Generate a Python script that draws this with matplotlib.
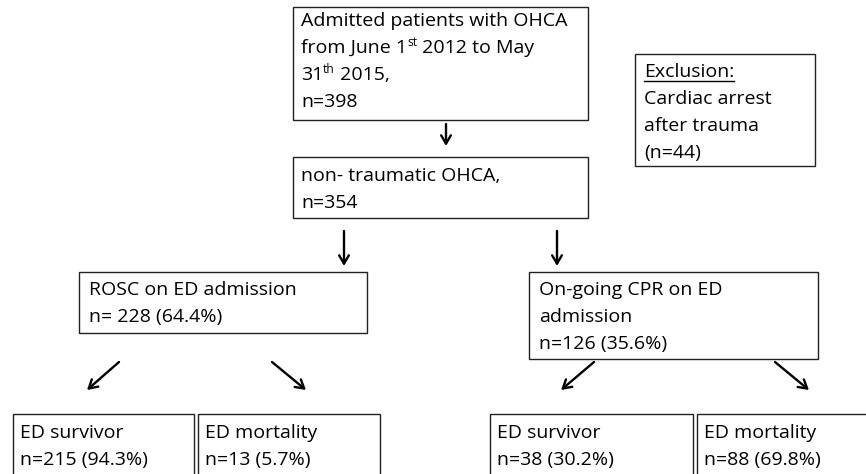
import matplotlib.pyplot as plt
from matplotlib.patches import Rectangle

# counts
n_admitted = 398
n_trauma = 44
n_nontrauma = 354
rosc_n, rosc_pct = 228, 64.4
cpr_n, cpr_pct = 126, 35.6
rosc_surv_n, rosc_surv_pct = 215, 94.3
rosc_mort_n, rosc_mort_pct = 13, 5.7
cpr_surv_n, cpr_surv_pct = 38, 30.2
cpr_mort_n, cpr_mort_pct = 88, 69.8

# text of each box (runs: (text, superscript?))
top_lines = [
    [("Admitted patients with OHCA", False)],
    [("from June 1", False), ("st", True), (" 2012 to May", False)],
    [("31", False), ("th", True), (" 2015,", False)],
    [(f"n={n_admitted}", False)],
]
excl_lines = ["Exclusion:", "Cardiac arrest", "after trauma", f"(n={n_trauma})"]
nontrauma_lines = ["non- traumatic OHCA,", f"n={n_nontrauma}"]
rosc_lines = ["ROSC on ED admission", f"n= {rosc_n} ({rosc_pct}%)"]
cpr_lines = ["On-going CPR on ED", "admission", f"n={cpr_n} ({cpr_pct}%)"]
outcome_lines = [
    ["ED survivor", f"n={rosc_surv_n} ({rosc_surv_pct}%)"],
    ["ED mortality", f"n={rosc_mort_n} ({rosc_mort_pct}%)"],
    ["ED survivor", f"n={cpr_surv_n} ({cpr_surv_pct}%)"],
    ["ED mortality", f"n={cpr_mort_n} ({cpr_mort_pct}%)"],
]

# layout in pixels (x0, y0, x1, y1), y grows downward
W, H = 866, 474
box_top = (293, 7, 588, 120)
box_excl = (635, 54, 815, 166)
box_nontrauma = (293, 157, 588, 218)
box_rosc = (79, 272, 367, 333)
box_cpr = (529, 272, 818, 359)
box_out = [(13, 414, 194, 490), (198, 414, 380, 490),
           (490, 414, 693, 490), (697, 414, 880, 490)]
arrows = [((446, 124), (446, 146)),
          ((344, 231), (344, 266)), ((557, 231), (557, 266)),
          ((119, 362), (87, 390)), ((272, 362), (306, 390)),
          ((594, 362), (561, 390)), ((775, 362), (809, 390))]

FONT = "Open Sans"
FS = 14
LINE = 27

fig = plt.figure(figsize=(W / 100, H / 100), dpi=100)
ax = fig.add_axes([0, 0, 1, 1])
ax.set_xlim(0, W)
ax.set_ylim(H, 0)
ax.axis("off")
renderer = fig.canvas.get_renderer()
inv = ax.transData.inverted()


def draw_box(b):
    ax.add_patch(Rectangle((b[0], b[1]), b[2] - b[0], b[3] - b[1],
                           fill=False, edgecolor="#222222", lw=1.0))


def run_width(t):
    bb = t.get_window_extent(renderer)
    (x0, _), (x1, _) = inv.transform([(bb.x0, 0), (bb.x1, 0)])
    return x1 - x0


def draw_lines(b, lines, first=19, dx=8):
    for i, line in enumerate(lines):
        y = b[1] + first + i * LINE
        x = b[0] + dx
        if isinstance(line, str):
            line = [(line, False)]
        for s, sup in line:
            if sup:
                t = ax.text(x, y - 6, s, fontsize=FS * 0.62, family=FONT,
                            va="center", ha="left")
            else:
                t = ax.text(x, y, s, fontsize=FS, family=FONT,
                            va="center", ha="left")
            x += run_width(t)


for b in [box_top, box_excl, box_nontrauma, box_rosc, box_cpr] + box_out:
    draw_box(b)

draw_lines(box_top, top_lines, first=14)
draw_lines(box_nontrauma, nontrauma_lines, first=19)
draw_lines(box_rosc, rosc_lines, first=18, dx=10)
draw_lines(box_cpr, cpr_lines, first=18, dx=10)
for b, lines in zip(box_out, outcome_lines):
    draw_lines(b, lines, first=19, dx=7)

draw_lines(box_excl, excl_lines, first=18, dx=9)
# underline "Exclusion:"
t = ax.text(0, 0, excl_lines[0], fontsize=FS, family=FONT, alpha=0)
w = run_width(t)
ax.plot([box_excl[0] + 9, box_excl[0] + 9 + w], [box_excl[1] + 27, box_excl[1] + 27],
        color="black", lw=1)

for (x0, y0), (x1, y1) in arrows:
    ax.annotate("", xy=(x1, y1), xytext=(x0, y0),
                arrowprops=dict(arrowstyle="->,head_length=0.6,head_width=0.35",
                                color="black", lw=1.7, shrinkA=0, shrinkB=0))

fig.savefig("out.png", dpi=100)
